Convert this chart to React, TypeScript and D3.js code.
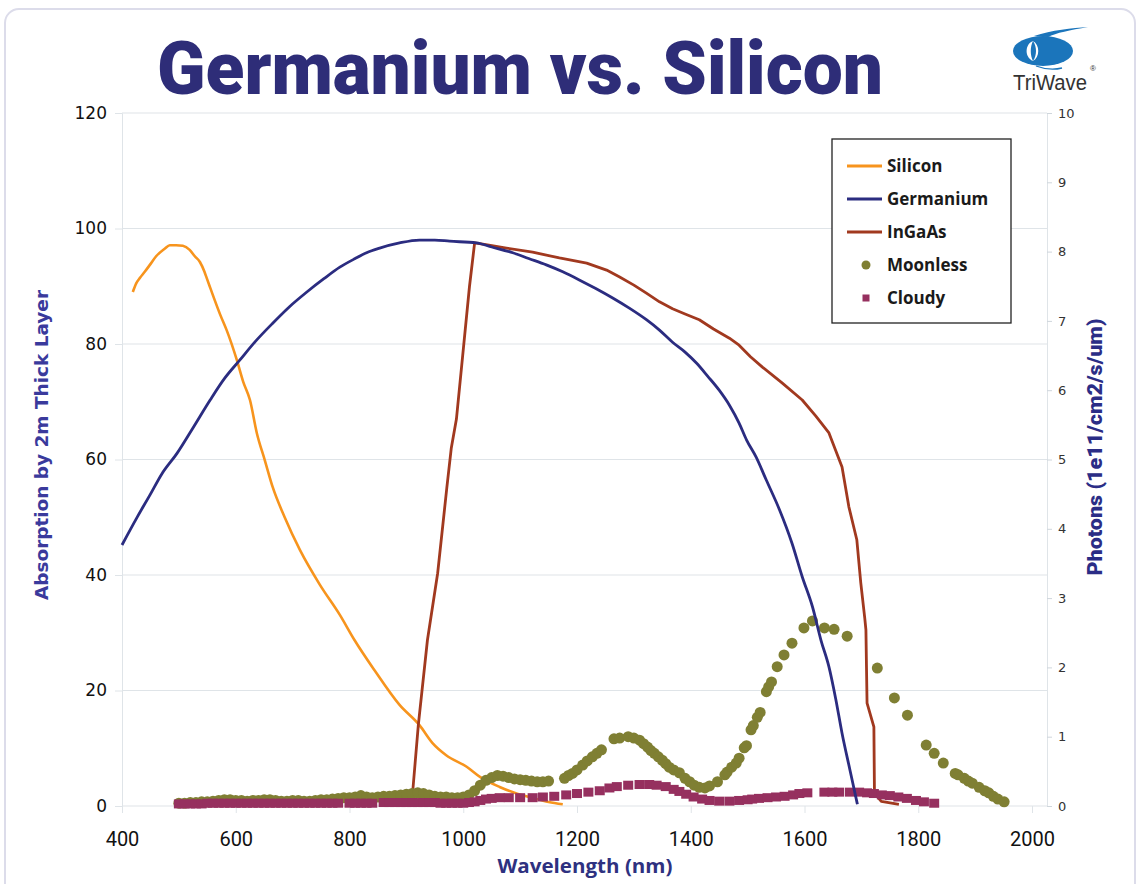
import React, { useEffect, useRef } from 'react';
import * as d3 from 'd3';

// Absorption curves (wavelength nm -> % absorbed)
const siliconWl = [419, 425, 432, 440, 449, 460, 475, 484, 495, 507, 519, 528, 537, 545, 549, 556, 563, 573, 584, 602, 613, 625, 637, 651, 665, 686, 713, 748, 783, 809, 844, 888, 923, 946, 970, 1006, 1030, 1064, 1090, 1122, 1150, 1175];
const siliconAbs = [89.0, 90.5, 91.5, 92.5, 93.7, 95.2, 96.5, 97.1, 97.1, 97.0, 96.3, 95.2, 94.2, 92.5, 91.4, 89.5, 87.6, 85.0, 82.4, 77.2, 73.5, 70.3, 64.6, 59.9, 55.2, 50.0, 44.3, 38.3, 33.1, 28.7, 23.5, 17.5, 14.0, 10.9, 8.8, 6.8, 5.0, 3.3, 2.3, 1.4, 0.7, 0.3];

const germaniumWl = [400, 426, 450, 470, 497, 525, 555, 580, 607, 635, 665, 695, 725, 755, 783, 810, 830, 853, 888, 923, 950, 976, 1023, 1050, 1087, 1115, 1146, 1175, 1204, 1233, 1262, 1292, 1322, 1345, 1368, 1390, 1410, 1430, 1450, 1468, 1485, 1498, 1515, 1533, 1556, 1578, 1596, 1614, 1629, 1643, 1655, 1666, 1680, 1693];
const germaniumAbs = [45.2, 49.9, 54.0, 57.5, 61.1, 65.5, 70.3, 74.0, 77.2, 80.5, 83.6, 86.5, 89.0, 91.3, 93.3, 94.8, 95.8, 96.6, 97.5, 98.0, 98.0, 97.8, 97.5, 96.8, 95.8, 94.8, 93.7, 92.5, 91.1, 89.6, 88.0, 86.2, 84.2, 82.4, 80.3, 78.6, 76.7, 74.4, 72.0, 69.4, 66.3, 63.4, 60.4, 56.4, 51.3, 45.5, 39.7, 34.5, 28.7, 24.1, 18.5, 12.6, 6.2, 0.3];

const ingaasWl = [909, 921, 937, 955, 971, 979, 988, 999, 1011, 1020, 1040, 1076, 1122, 1169, 1217, 1252, 1275, 1300, 1322, 1345, 1368, 1390, 1415, 1440, 1468, 1485, 1505, 1526, 1560, 1596, 1620, 1643, 1655, 1666, 1678, 1692, 1699, 1706, 1708, 1709, 1710, 1722, 1723, 1735, 1766];
const ingaasAbs = [0, 14, 28.7, 40.3, 55, 62, 67, 78, 90, 97.5, 97.2, 96.6, 95.9, 94.9, 94.0, 92.8, 91.6, 90.2, 88.8, 87.3, 86.1, 85.2, 84.2, 82.6, 81.0, 79.8, 77.8, 76.0, 73.3, 70.3, 67.5, 64.6, 61.5, 58.7, 51.8, 46.1, 38.6, 32.5, 30.5, 24, 17.8, 13.7, 2.2, 0.8, 0.3];

// Sky photon flux (1e11/cm2/s/um)
const moonlessWl = [500, 510, 520, 530, 540, 550, 560, 570, 580, 590, 600, 610, 620, 630, 640, 650, 660, 670, 680, 690, 700, 710, 720, 730, 740, 750, 760, 770, 780, 790, 800, 810, 820, 830, 840, 850, 860, 870, 880, 890, 900, 910, 920, 930, 940, 950, 960, 970, 980, 990, 1000, 1010, 1020, 1030, 1040, 1050, 1060, 1070, 1080, 1090, 1100, 1110, 1120, 1130, 1140, 1150, 1178, 1185, 1192, 1200, 1210, 1218, 1227, 1235, 1243, 1265, 1275, 1290, 1300, 1310, 1317, 1324, 1330, 1336, 1343, 1350, 1356, 1362, 1370, 1380, 1390, 1398, 1406, 1415, 1425, 1433, 1447, 1460, 1464, 1472, 1480, 1485, 1494, 1498, 1506, 1510, 1517, 1522, 1533, 1537, 1542, 1552, 1564, 1578, 1599, 1614, 1635, 1652, 1675, 1728, 1758, 1781, 1814, 1828, 1844, 1865, 1870, 1881, 1888, 1895, 1907, 1917, 1924, 1932, 1940, 1951];
const moonlessPhotons = [0.04, 0.04, 0.05, 0.05, 0.06, 0.06, 0.07, 0.08, 0.09, 0.09, 0.08, 0.08, 0.07, 0.08, 0.08, 0.09, 0.09, 0.08, 0.07, 0.07, 0.08, 0.08, 0.07, 0.07, 0.08, 0.09, 0.09, 0.10, 0.11, 0.12, 0.12, 0.13, 0.15, 0.13, 0.12, 0.13, 0.14, 0.14, 0.15, 0.16, 0.17, 0.18, 0.19, 0.18, 0.16, 0.14, 0.13, 0.13, 0.12, 0.12, 0.13, 0.16, 0.22, 0.30, 0.37, 0.41, 0.44, 0.43, 0.41, 0.39, 0.38, 0.37, 0.36, 0.35, 0.35, 0.36, 0.40, 0.44, 0.47, 0.52, 0.59, 0.65, 0.71, 0.76, 0.81, 0.97, 0.98, 1.0, 0.98, 0.95, 0.90, 0.85, 0.80, 0.76, 0.71, 0.66, 0.61, 0.56, 0.52, 0.48, 0.40, 0.35, 0.30, 0.27, 0.26, 0.29, 0.35, 0.45, 0.49, 0.56, 0.62, 0.69, 0.84, 0.87, 1.10, 1.16, 1.28, 1.35, 1.65, 1.72, 1.79, 2.01, 2.18, 2.35, 2.57, 2.67, 2.57, 2.55, 2.45, 1.99, 1.56, 1.31, 0.88, 0.76, 0.62, 0.47, 0.45, 0.40, 0.36, 0.33, 0.27, 0.22, 0.19, 0.14, 0.10, 0.06];

const cloudyWl = [500, 510, 520, 530, 540, 550, 560, 570, 580, 590, 600, 610, 620, 630, 640, 650, 660, 670, 680, 690, 700, 710, 720, 730, 740, 750, 760, 770, 780, 800, 810, 820, 830, 840, 860, 870, 880, 890, 900, 910, 920, 930, 940, 950, 960, 970, 980, 990, 1000, 1010, 1020, 1030, 1040, 1050, 1064, 1080, 1100, 1122, 1140, 1160, 1181, 1200, 1220, 1240, 1257, 1270, 1290, 1310, 1327, 1340, 1356, 1370, 1380, 1392, 1405, 1420, 1433, 1450, 1468, 1485, 1500, 1508, 1520, 1535, 1550, 1565, 1580, 1591, 1605, 1635, 1649, 1661, 1680, 1696, 1710, 1722, 1736, 1750, 1765, 1780, 1796, 1810, 1828];
const cloudyPhotons = [0.03, 0.03, 0.03, 0.03, 0.03, 0.04, 0.04, 0.04, 0.04, 0.04, 0.04, 0.04, 0.04, 0.04, 0.04, 0.04, 0.04, 0.04, 0.04, 0.04, 0.04, 0.04, 0.04, 0.04, 0.04, 0.04, 0.04, 0.04, 0.04, 0.04, 0.04, 0.04, 0.04, 0.04, 0.05, 0.05, 0.05, 0.05, 0.05, 0.05, 0.05, 0.05, 0.05, 0.05, 0.04, 0.04, 0.04, 0.04, 0.04, 0.05, 0.06, 0.08, 0.10, 0.11, 0.12, 0.12, 0.12, 0.12, 0.13, 0.14, 0.16, 0.18, 0.20, 0.22, 0.26, 0.28, 0.30, 0.31, 0.31, 0.30, 0.28, 0.24, 0.21, 0.17, 0.13, 0.10, 0.08, 0.07, 0.07, 0.08, 0.09, 0.10, 0.11, 0.12, 0.13, 0.14, 0.16, 0.18, 0.19, 0.20, 0.20, 0.20, 0.20, 0.20, 0.19, 0.18, 0.16, 0.15, 0.13, 0.11, 0.08, 0.06, 0.04];

const xTicks = [400, 600, 800, 1000, 1200, 1400, 1600, 1800, 2000];
const leftTicks = [0, 20, 40, 60, 80, 100, 120];
const rightTicks = [0, 1, 2, 3, 4, 5, 6, 7, 8, 9, 10];

const legendNames = ['Silicon', 'Germanium', 'InGaAs', 'Moonless', 'Cloudy'];
const colors = {
  silicon: '#f7941d',
  germanium: '#2b2c80',
  ingaas: '#a1391f',
  moonless: '#7f7f33',
  cloudy: '#96305f',
};

const App = () => {
  const ref = useRef(null);

  useEffect(() => {
    const svg = d3.select(ref.current);
    svg.selectAll('*').remove();

    const x = d3.scaleLinear().domain([400, 2000]).range([122, 1032]);
    const yL = d3.scaleLinear().domain([0, 120]).range([806, 113]);
    const yR = d3.scaleLinear().domain([0, 10]).range([806, 113]);
    const plotRight = 1047;
    const gridColor = '#dfe4e8';

    // slide frame
    svg.append('rect')
      .attr('x', 5).attr('y', 9).attr('width', 1130).attr('height', 900)
      .attr('rx', 14).attr('fill', '#fff')
      .attr('stroke', '#dcdcea').attr('stroke-width', 2);

    // title
    svg.append('text')
      .attr('x', 157).attr('y', 94)
      .attr('textLength', 726).attr('lengthAdjust', 'spacingAndGlyphs')
      .attr('font-family', 'Roboto, "Open Sans", sans-serif')
      .attr('font-weight', 900).attr('font-size', 74)
      .attr('fill', '#2e2d78')
      .text('Germanium vs. Silicon');

    // logo
    const logo = svg.append('g');
    logo.append('path')
      .attr('d', 'M1034,36 C1052,30 1072,28 1088,27 C1070,30 1056,33 1048,37 Z')
      .attr('fill', '#1b75bb');
    logo.append('ellipse')
      .attr('cx', 1043).attr('cy', 51).attr('rx', 30).attr('ry', 15)
      .attr('fill', '#1b75bb');
    logo.append('path')
      .attr('d', 'M1033,41 C1025,44 1024,57 1033,61 C1030,55 1030,47 1033,41 Z')
      .attr('fill', '#fff');
    logo.append('path')
      .attr('d', 'M1033,41 C1040,45 1040,57 1033,61 C1037,55 1037,47 1033,41 Z')
      .attr('fill', '#fff');
    logo.append('path')
      .attr('d', 'M1036,66 C1044,69 1054,70 1062,68')
      .attr('fill', 'none').attr('stroke', '#1b75bb').attr('stroke-width', 1.3);
    logo.append('text')
      .attr('x', 1013).attr('y', 90)
      .attr('textLength', 74).attr('lengthAdjust', 'spacingAndGlyphs')
      .attr('font-family', '"Liberation Sans", Arial, sans-serif')
      .attr('font-size', 22).attr('fill', '#333')
      .text('TriWave');
    logo.append('text')
      .attr('x', 1090).attr('y', 71)
      .attr('font-family', '"Liberation Sans", Arial, sans-serif')
      .attr('font-size', 8).attr('fill', '#333')
      .text('®');

    // gridlines
    svg.append('g')
      .selectAll('line')
      .data(leftTicks)
      .enter()
      .append('line')
      .attr('x1', 122).attr('x2', plotRight)
      .attr('y1', d => yL(d)).attr('y2', d => yL(d))
      .attr('stroke', gridColor).attr('stroke-width', 1.2);

    // left axis
    const leftAxis = svg.append('g')
      .attr('transform', 'translate(122,0)')
      .call(d3.axisLeft(yL).tickValues(leftTicks).tickSize(7).tickPadding(8));
    leftAxis.select('.domain').attr('stroke', gridColor);
    leftAxis.selectAll('line').attr('stroke', gridColor);
    leftAxis.selectAll('text')
      .attr('font-family', '"DejaVu Sans", sans-serif')
      .attr('font-size', 17).attr('fill', '#111');

    // right axis
    const rightAxis = svg.append('g')
      .attr('transform', `translate(${plotRight},0)`)
      .call(d3.axisRight(yR).tickValues(rightTicks).tickSize(5).tickPadding(6));
    rightAxis.select('.domain').attr('stroke', gridColor);
    rightAxis.selectAll('line').attr('stroke', '#cfd6dc');
    rightAxis.selectAll('text')
      .attr('font-family', '"DejaVu Sans", sans-serif')
      .attr('font-size', 13).attr('fill', '#333');

    // bottom axis
    const bottomAxis = svg.append('g')
      .attr('transform', 'translate(0,806)')
      .call(d3.axisBottom(x).tickValues(xTicks).tickSize(7).tickPadding(19).tickFormat(d3.format('d')));
    bottomAxis.select('.domain').remove();
    bottomAxis.selectAll('line').attr('stroke', gridColor);
    bottomAxis.selectAll('text')
      .attr('font-family', 'Roboto, sans-serif')
      .attr('font-size', 20).attr('fill', '#111');

    // axis titles
    svg.append('text')
      .attr('transform', 'translate(48,445) rotate(-90)')
      .attr('text-anchor', 'middle')
      .attr('textLength', 310).attr('lengthAdjust', 'spacingAndGlyphs')
      .attr('font-family', '"DejaVu Sans", sans-serif')
      .attr('font-weight', 'bold').attr('font-size', 18)
      .attr('fill', '#3a3a9c')
      .text('Absorption by 2m Thick Layer');

    svg.append('text')
      .attr('transform', 'translate(1102,447) rotate(-90)')
      .attr('text-anchor', 'middle')
      .attr('textLength', 257).attr('lengthAdjust', 'spacingAndGlyphs')
      .attr('font-family', 'Roboto, sans-serif')
      .attr('font-weight', 900).attr('font-size', 20)
      .attr('fill', '#2b2d86')
      .text('Photons (1e11/cm2/s/um)');

    svg.append('text')
      .attr('x', 585).attr('y', 873)
      .attr('text-anchor', 'middle')
      .attr('textLength', 175).attr('lengthAdjust', 'spacingAndGlyphs')
      .attr('font-family', '"Open Sans", sans-serif')
      .attr('font-weight', 'bold').attr('font-size', 19)
      .attr('fill', '#2e3180')
      .text('Wavelength (nm)');

    // series
    const smoothLine = d3.line<[number, number]>()
      .x(d => x(d[0]))
      .y(d => yL(d[1]))
      .curve(d3.curveMonotoneX);
    const plainLine = d3.line<[number, number]>()
      .x(d => x(d[0]))
      .y(d => yL(d[1]));

    const addLine = (wl: number[], vals: number[], color: string, w: number, gen) => {
      svg.append('path')
        .datum(wl.map((v, i) => [v, vals[i]] as [number, number]))
        .attr('fill', 'none')
        .attr('stroke', color)
        .attr('stroke-width', w)
        .attr('stroke-linejoin', 'round')
        .attr('d', gen);
    };

    addLine(siliconWl, siliconAbs, colors.silicon, 2.6, smoothLine);
    addLine(ingaasWl, ingaasAbs, colors.ingaas, 2.8, plainLine);

    svg.append('g')
      .selectAll('circle')
      .data(moonlessWl.map((v, i) => ({ wl: v, p: moonlessPhotons[i] })))
      .enter()
      .append('circle')
      .attr('cx', d => x(d.wl))
      .attr('cy', d => yR(d.p))
      .attr('r', 5.5)
      .attr('fill', colors.moonless);

    svg.append('g')
      .selectAll('rect')
      .data(cloudyWl.map((v, i) => ({ wl: v, p: cloudyPhotons[i] })))
      .enter()
      .append('rect')
      .attr('x', d => x(d.wl) - 5)
      .attr('y', d => yR(d.p) - 4.5)
      .attr('width', 10)
      .attr('height', 9)
      .attr('fill', colors.cloudy);

    addLine(germaniumWl, germaniumAbs, colors.germanium, 2.8, smoothLine);

    // legend
    const legend = svg.append('g');
    legend.append('rect')
      .attr('x', 832).attr('y', 139).attr('width', 179).attr('height', 184)
      .attr('fill', '#fff').attr('stroke', '#222').attr('stroke-width', 1.3);

    const legendColors = [colors.silicon, colors.germanium, colors.ingaas, colors.moonless, colors.cloudy];
    legendNames.forEach((name, i) => {
      const cy = 166 + i * 33;
      if (i < 3) {
        legend.append('line')
          .attr('x1', 847).attr('x2', 882).attr('y1', cy).attr('y2', cy)
          .attr('stroke', legendColors[i]).attr('stroke-width', 3);
      } else if (i === 3) {
        legend.append('circle')
          .attr('cx', 866).attr('cy', cy).attr('r', 4.5)
          .attr('fill', legendColors[i]);
      } else {
        legend.append('rect')
          .attr('x', 862.5).attr('y', cy - 3.5).attr('width', 7).attr('height', 7)
          .attr('fill', legendColors[i]);
      }
      legend.append('text')
        .attr('x', 887).attr('y', cy + 6)
        .attr('font-family', '"Open Sans", sans-serif')
        .attr('font-weight', 'bold').attr('font-size', 17)
        .attr('fill', '#1a1a1a')
        .text(name);
    });
  }, []);

  return (
    <svg
      ref={ref}
      width={1140}
      height={884}
      style={{ position: 'absolute', left: 0, top: 0, background: '#fff' }}
    />
  );
};

export default App;
